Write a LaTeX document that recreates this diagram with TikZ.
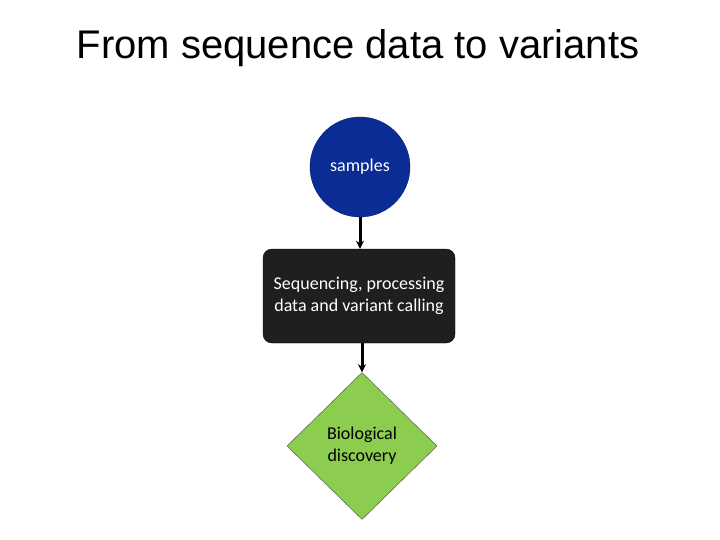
\documentclass[tikz,border=0pt]{standalone}
\usepackage{fontspec}
\setmainfont{Liberation Sans}
\newfontfamily\bodyfont{Carlito}
\usetikzlibrary{shapes.geometric,arrows.meta}
\definecolor{sampleblue}{HTML}{0A2C94}
\definecolor{discgreen}{HTML}{8CCC4E}
\tikzset{
  stage/.style={font=\bodyfont\fontsize{18}{22}\selectfont,align=center,inner sep=0pt},
  flow/.style={-{Stealth[length=8pt,width=8pt]},line width=3pt}
}
\begin{document}
\begin{tikzpicture}[x=1pt,y=-1pt]
        \useasboundingbox (0,0) rectangle (720,540);
        \node (title) at (358,48) {\fontsize{40}{46}\selectfont From sequence data to variants};
        \node (samples)  at (360,167) [stage,circle,draw=sampleblue!70!black,fill=sampleblue,text=white,minimum size=100pt] {samples};
        \node (calling)  at (359,296) [stage,rectangle,rounded corners=9pt,draw=black,fill=black!88,text=white,minimum width=192pt,minimum height=94pt] {Sequencing, processing\\data and variant calling};
        \node (discover) at (362,446) [stage,diamond,draw=black!70,fill=discgreen,minimum width=150pt,minimum height=147pt] {Biological\\discovery};

        \draw[flow] (samples) -- (samples |- calling.north);
        \draw[flow] (calling.south -| discover) -- (discover);
    \end{tikzpicture}
\end{document}
